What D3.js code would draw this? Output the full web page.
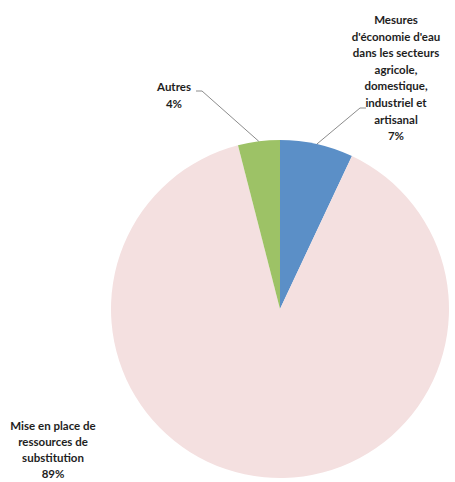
<!DOCTYPE html>
<html>
<head>
<meta charset="utf-8">
<script src="https://cdn.jsdelivr.net/npm/d3@7"></script>
<style>
  html, body { margin: 0; padding: 0; background: #fff; }
  svg { display: block; }
</style>
</head>
<body>
<div id="chart"></div>
<script>
// data
const categories = [
  "Mesures d'économie d'eau dans les secteurs agricole, domestique, industriel et artisanal",
  "Mise en place de ressources de substitution",
  "Autres"
];
const values = [7, 89, 4];
const labelLines = [
  ["Mesures", "d'économie d'eau", "dans les secteurs", "agricole,", "domestique,", "industriel et", "artisanal"],
  ["Mise en place de", "ressources de", "substitution"],
  ["Autres"]
];

const colors = ["#5b8fc7", "#f4e0e0", "#9dc266"];

const width = 455, height = 482;
const cx = 280, cy = 309, radius = 169;

// label layout: text centre relative to pie centre, first line y, and leader elbow
const labelLayout = [
  { x: 116, y: -289, lh: 16.6, elbow: [80, -201], tick: 6 },
  { x: -227, y: 117, lh: 16, elbow: null },
  { x: -106, y: -222, lh: 16.6, elbow: [-78, -218], tick: -6 }
];

const svg = d3.select("#chart").append("svg")
  .attr("width", width)
  .attr("height", height);

const g = svg.append("g")
  .attr("transform", `translate(${cx}, ${cy})`);

const pie = d3.pie().sort(null).value(d => d);
const arcs = pie(values);
const arc = d3.arc().innerRadius(0).outerRadius(radius);

g.selectAll(".slice")
  .data(arcs)
  .enter()
  .append("path")
  .attr("class", "slice")
  .attr("d", arc)
  .attr("fill", (d, i) => colors[i]);

// leader lines
arcs.forEach((d, i) => {
  const lay = labelLayout[i];
  if (!lay.elbow) return;
  const a = (d.startAngle + d.endAngle) / 2;
  const p0 = [radius * Math.sin(a), -radius * Math.cos(a)];
  const p1 = lay.elbow;
  const p2 = [p1[0] + lay.tick, p1[1]];
  g.append("path")
    .attr("d", d3.line()([p0, p1, p2]))
    .attr("fill", "none")
    .attr("stroke", "#8c8c8c")
    .attr("stroke-width", 1);
});

// labels
arcs.forEach((d, i) => {
  const lay = labelLayout[i];
  const lines = labelLines[i].concat([d3.format(".0f")(values[i]) + "%"]);
  const t = g.append("text")
    .attr("text-anchor", "middle")
    .style("font-family", "Lato, 'Open Sans', sans-serif")
    .style("font-weight", "bold")
    .style("font-size", "11.5px")
    .style("fill", "#1e1e1e");
  lines.forEach((line, j) => {
    t.append("tspan")
      .attr("x", lay.x)
      .attr("y", lay.y + j * lay.lh + 4)
      .text(line);
  });
});
</script>
</body>
</html>
